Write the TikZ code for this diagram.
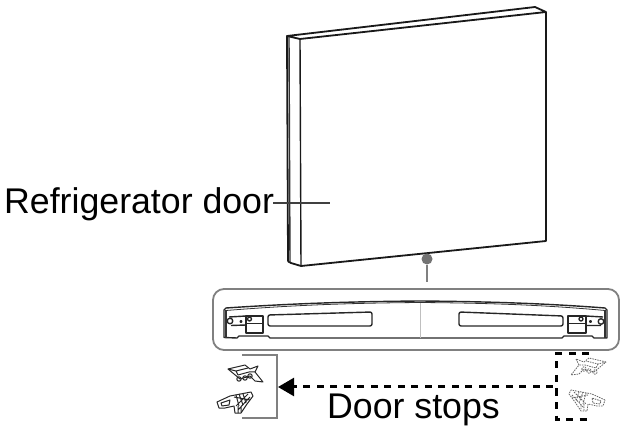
\documentclass[tikz,border=0pt]{standalone}
\usepackage{fontspec}
\setmainfont{Liberation Sans}
\usetikzlibrary{arrows.meta}
\tikzset{
  doorline/.style={line width=1.8pt,line join=round,black!90},
  panelline/.style={line width=1.4pt,line join=round,black!85},
  leader/.style={line width=1.5pt,black!60},
  frameline/.style={line width=1.8pt,black!50},
  dashline/.style={line width=3pt,black,dash pattern=on 7pt off 6.5pt},
  label/.style={inner sep=0pt,anchor=base west,font=\fontsize{35.7}{35.7}\selectfont,text=black},
  stopsolid/.style={line width=1pt,black!85,line join=round},
  stopghost/.style={line width=.8pt,black!60,dash pattern=on 1.5pt off 1pt,line join=round},
  pics/upperstop/.style={code={
    \draw[pic actions] (-18,-5) -- (-1,-9) -- (4,-5) -- (12,-8) -- (9,-2) -- (17,8) -- (9,7) -- (4,2) -- (-6,5) -- (-12,0) -- cycle;
    \draw[pic actions] (-18,-5) -- (-10,-3) -- (2,-6) (-10,-3) -- (-8,1) -- (3,-2) -- (9,-2);
    \draw[pic actions] (-7,5) circle (2.2) (-1,4) circle (2.2) (4,2) circle (2.2);
  }},
  pics/lowerstop/.style={code={
    \draw[pic actions] (-18,0) -- (-5,-6) -- (16,-10) -- (18,-6) -- (12,2) -- (6,11) -- (0,11) -- (-1,4) -- (-10,6) -- (-16,6) -- cycle;
    \draw[pic actions] (-14,1) -- (-5,-2) -- (-6,3) -- (-13,4) -- cycle;
    \draw[pic actions] (1,-7) -- (4,4) (4,-8) -- (8,3) (8,-8) -- (11,1) (13,-8) -- (1,4) (15,-5) -- (3,8) (3,4) -- (3,11) (6,5) -- (6,10) (-1,-5) -- (15,-2);
  }}
}
\begin{document}
\begin{tikzpicture}[x=1pt,y=-1pt]
  \useasboundingbox (0,0) rectangle (633,433);

  \node[label] (doorlabel) at (4,214) {Refrigerator door};
  \node[label] (stoplabel) at (327,418) {Door stops};

  \draw[doorline] (287,36) -- (535,7) -- (546,12) -- (546,241) -- (301,266) -- (291,263)
    .. controls (288,262) .. (288,258) -- (287,36) -- (300,39) -- (546,12);
  \draw[doorline,line width=1.4pt] (300,39) -- (301,266);
  \draw[line width=1.4pt,black!80] (289,37) -- (290,262);

  \coordinate (leaderstart) at (273,203);
  \coordinate (leaderend) at (330,203);
  \draw[leader,black!75] (leaderstart) -- (leaderend);

  \coordinate (pinend) at (427,282);
  \node[circle,fill=black!55,inner sep=0pt,minimum size=11pt] (pin) at (427,259) {};
  \draw[leader,black!50] (pin) -- (pinend);

  \draw[line width=1.8pt,black!50,rounded corners=11pt] (213,289) rectangle (619,350);

  \draw[panelline] (224,337.5) -- (224,310) -- (226,308) .. controls (300,303) and (360,301.5) .. (420,301)
    .. controls (480,301.5) and (540,303) .. (605,308) -- (607,310) -- (607,338) -- (594,338) -- (592,336)
    -- (564,336) -- (562,338) -- (270,338) -- (268,336) -- (239,336) -- (237,338) -- cycle;
  \draw[line width=.8pt,black!80] (226,310.5) .. controls (300,304.5) and (360,303) .. (420,302.5)
    .. controls (480,303) and (540,304.5) .. (605,310.5);
  \draw[line width=1.2pt,black!80] (226,310) -- (226,338) (605,310) -- (605,338);
  \draw[line width=.3pt,black!25] (420,303) -- (420,338);

  \draw[panelline,rounded corners=2pt] (268,315) -- (372,312) -- (372,326) -- (268,326) -- cycle;
  \draw[panelline,rounded corners=2pt] (459,312) -- (563,316) -- (563,326) -- (459,326) -- cycle;

  \draw[panelline] (246,316) rectangle (263,333) (246,323.5) -- (263,323.5);
  \draw[panelline] (229,317) -- (246,316) (231,325.5) -- (246,325);
  \draw[panelline] (230,321) circle (2.8) (241,321.5) circle (1) (249.5,319) circle (2);
  \draw[panelline] (568,316) rectangle (586,333) (568,323.5) -- (586,323.5);
  \draw[panelline] (586,316) -- (603,317) (586,325.5) -- (601,325.5);
  \draw[panelline] (601,321.5) circle (2.8) (590.5,321.5) circle (1) (581,319) circle (2);

  \draw[frameline] (242,355) -- (277,355) -- (277,418) -- (242,418);
  \pic[stopsolid] at (246,374) {upperstop};
  \pic[stopsolid] at (235,402) {lowerstop};

  \coordinate (arrowstart) at (553,387);
  \coordinate (arrowmid) at (294,387);
  \coordinate (arrowtip) at (278,387);
  \draw[dashline] (arrowstart) -- (arrowmid);
  \draw[-{Triangle[length=16pt,width=18pt]},black,line width=2.4pt] (arrowmid) -- (arrowtip);

  \draw[dashline] (589,354) -- (556,354) -- (556,419) -- (591,419);
  \pic[stopghost,xscale=-1] at (588,367) {upperstop};
  \pic[stopghost,xscale=-1] at (587,400) {lowerstop};
\end{tikzpicture}
\end{document}
